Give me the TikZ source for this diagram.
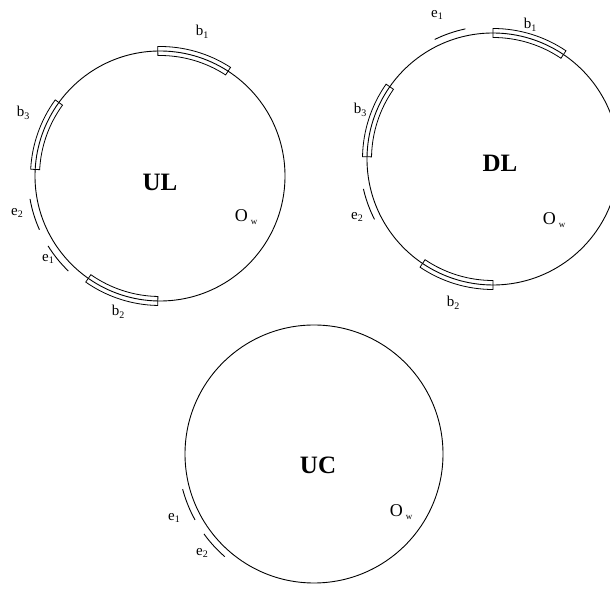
\documentclass[tikz,border=0pt]{standalone}
\usepackage{fontspec}
\setmainfont{Liberation Serif}
\begin{document}
\begin{tikzpicture}[x=1pt,y=1pt,
  ring/.style={line width=0.9pt},
  bandbox/.style={line width=0.8pt, fill=white},
  earc/.style={line width=0.9pt},
  lab/.style={font=\fontsize{15}{15}\selectfont, inner sep=0pt},
  big/.style={font=\fontsize{25}{25}\selectfont\bfseries, inner sep=0pt},
  ow/.style={font=\fontsize{18}{18}\selectfont, inner sep=0pt}]
\useasboundingbox (0,0) rectangle (610,596);
\newcommand\myband[3]{% radius, a1, a2
  \draw[bandbox] (#2:#1+4.5) arc[start angle=#2, end angle=#3, radius=#1+4.5]
    -- (#3:#1-4.5) arc[start angle=#3, end angle=#2, radius=#1-4.5] -- cycle;
  \draw[ring] (#2:#1) arc[start angle=#2, end angle=#3, radius=#1];}
\newcommand\myearc[3]{%
  \draw[earc] (#2:#1+7) arc[start angle=#2, end angle=#3, radius=#1+7];}
\newcommand\sbs[1]{\raisebox{-0.35ex}{\fontsize{10}{10}\selectfont #1}}
\newcommand\ows{O\,\raisebox{-0.45ex}{\fontsize{9}{9}\selectfont w}}
\coordinate (ulc) at (160,420);
\coordinate (dlc) at (493,437);
\coordinate (ucc) at (314,142);
% UL
\begin{scope}[shift={(ulc)}]
  \draw[ring] (0,0) circle[radius=125];
  \myband{125}{57}{91}
  \myband{125}{144}{177}
  \myband{125}{235}{269}
  \myearc{125}{190}{204}
  \myearc{125}{212}{226}
\end{scope}
\node[big] (ul) at (160,414) {UL};
\node[ow] (ulo) at (246,379) {\ows};
\node[lab] (ulb1) at (202,564) {b\sbs{1}};
\node[lab] (ulb3) at (23,483) {b\sbs{3}};
\node[lab] (ule2) at (17,383) {e\sbs{2}};
\node[lab] (ule1) at (48,337) {e\sbs{1}};
\node[lab] (ulb2) at (118,284) {b\sbs{2}};
% DL
\begin{scope}[shift={(dlc)}]
  \draw[ring] (0,0) circle[radius=126];
  \myband{126}{56}{90}
  \myband{126}{145}{179}
  \myband{126}{236}{270}
  \myearc{126}{102}{116}
  \myearc{126}{193}{207}
\end{scope}
\node[big] (dl) at (500,433) {DL};
\node[ow] (dlo) at (554,376) {\ows};
\node[lab] (dle1) at (437,581) {e\sbs{1}};
\node[lab] (dlb1) at (530,571) {b\sbs{1}};
\node[lab] (dlb3) at (360,486) {b\sbs{3}};
\node[lab] (dle2) at (357,379) {e\sbs{2}};
\node[lab] (dlb2) at (453,293) {b\sbs{2}};
% UC
\begin{scope}[shift={(ucc)}]
  \draw[ring] (0,0) circle[radius=129];
  \myearc{129}{195}{209}
  \myearc{129}{216}{229}
\end{scope}
\node[big] (uc) at (318,131) {UC};
\node[ow] (uco) at (401,84) {\ows};
\node[lab] (uce1) at (174,78) {e\sbs{1}};
\node[lab] (uce2) at (202,43) {e\sbs{2}};
\end{tikzpicture}
\end{document}
